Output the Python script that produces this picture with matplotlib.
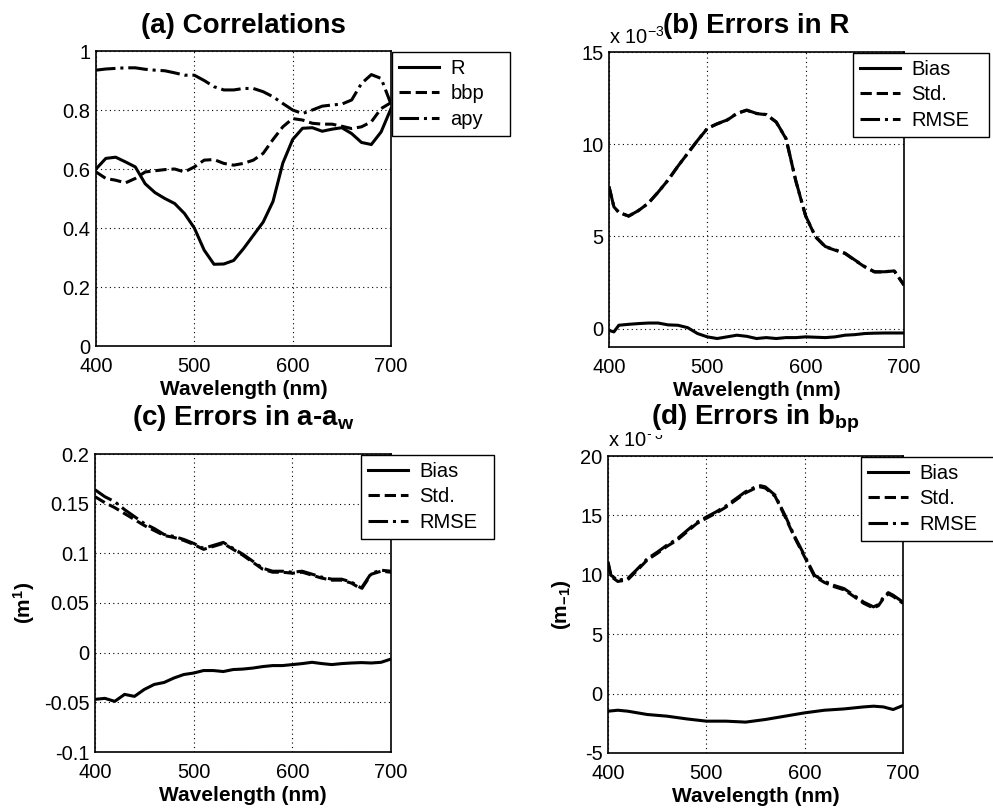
import matplotlib
matplotlib.use("Agg")
import matplotlib.pyplot as plt

plt.rcParams['font.family'] = ['Liberation Sans', 'DejaVu Sans']
plt.rcParams['mathtext.fontset'] = 'custom'
plt.rcParams['mathtext.rm'] = 'Liberation Sans'
plt.rcParams['mathtext.bf'] = 'Liberation Sans:bold'
plt.rcParams['mathtext.it'] = 'Liberation Sans:italic'

# ---------------- data ----------------
# (a) Correlations
wl_a = [400, 410, 420, 430, 440, 450, 460, 470, 480, 490, 500, 510, 520, 530, 540,
        550, 560, 570, 580, 590, 600, 610, 620, 630, 640, 650, 660, 670, 680, 690, 700]
corr_R = [0.60, 0.636, 0.64, 0.624, 0.607, 0.55, 0.52, 0.50, 0.483, 0.449, 0.40, 0.325,
          0.277, 0.278, 0.29, 0.33, 0.375, 0.42, 0.49, 0.62, 0.70, 0.738, 0.74, 0.728,
          0.735, 0.74, 0.72, 0.69, 0.683, 0.726, 0.805]
corr_bbp = [0.59, 0.568, 0.562, 0.553, 0.568, 0.59, 0.594, 0.598, 0.60, 0.59, 0.607, 0.63,
            0.632, 0.619, 0.613, 0.619, 0.63, 0.653, 0.70, 0.743, 0.771, 0.766, 0.755,
            0.752, 0.752, 0.745, 0.737, 0.743, 0.76, 0.805, 0.825]
corr_apy = [0.935, 0.939, 0.941, 0.943, 0.943, 0.938, 0.935, 0.933, 0.926, 0.918, 0.918,
            0.90, 0.879, 0.868, 0.868, 0.873, 0.873, 0.862, 0.845, 0.822, 0.80, 0.788,
            0.80, 0.813, 0.817, 0.82, 0.834, 0.89, 0.92, 0.907, 0.82]

# (b) Errors in R (x 10^-3)
wl_b = [400, 405, 410, 420, 430, 440, 450, 460, 470, 480, 490, 500, 510, 520, 530, 540,
        550, 560, 570, 580, 590, 600, 610, 620, 630, 640, 650, 660, 670, 680, 690, 700]
bias_b = [-0.1, -0.18, 0.18, 0.23, 0.27, 0.3, 0.3, 0.2, 0.18, 0.05, -0.27, -0.45, -0.54,
          -0.45, -0.36, -0.42, -0.54, -0.49, -0.54, -0.49, -0.49, -0.45, -0.47, -0.49,
          -0.45, -0.36, -0.33, -0.27, -0.25, -0.24, -0.24, -0.24]
std_b = [7.7, 6.6, 6.3, 6.1, 6.4, 6.8, 7.4, 8.05, 8.8, 9.5, 10.2, 10.85, 11.1, 11.3, 11.66,
         11.84, 11.66, 11.6, 11.2, 10.3, 8.0, 6.1, 4.97, 4.43, 4.25, 4.07, 3.7, 3.35, 3.07,
         3.07, 3.13, 2.35]
rmse_b = [7.7, 6.6, 6.3, 6.1, 6.4, 6.8, 7.4, 8.05, 8.8, 9.5, 10.2, 10.86, 11.11, 11.31, 11.67,
          11.85, 11.67, 11.61, 11.21, 10.31, 8.01, 6.11, 4.99, 4.45, 4.27, 4.09, 3.72, 3.36,
          3.08, 3.08, 3.14, 2.36]

# (c) Errors in a-a_w
wl_c = [400, 410, 420, 430, 440, 450, 460, 470, 480, 490, 500, 510, 520, 530, 540,
        550, 560, 570, 580, 590, 600, 610, 620, 630, 640, 650, 660, 670, 680, 690, 700]
bias_c = [-0.047, -0.046, -0.049, -0.042, -0.044, -0.037, -0.032, -0.030, -0.0255, -0.022,
          -0.0205, -0.018, -0.018, -0.019, -0.017, -0.0165, -0.0155, -0.014, -0.013, -0.013,
          -0.012, -0.011, -0.0097, -0.011, -0.012, -0.011, -0.0104, -0.010, -0.0104,
          -0.0097, -0.0064]
std_c = [0.157, 0.151, 0.146, 0.140, 0.134, 0.128, 0.123, 0.118, 0.116, 0.113, 0.109, 0.104,
         0.107, 0.110, 0.104, 0.098, 0.091, 0.084, 0.081, 0.081, 0.080, 0.081, 0.078, 0.075,
         0.073, 0.073, 0.070, 0.064, 0.079, 0.082, 0.081]
rmse_c = [0.164, 0.157, 0.152, 0.144, 0.137, 0.130, 0.125, 0.119, 0.117, 0.114, 0.110, 0.105,
          0.108, 0.111, 0.105, 0.099, 0.092, 0.085, 0.082, 0.082, 0.081, 0.082, 0.079, 0.076,
          0.074, 0.074, 0.071, 0.065, 0.080, 0.083, 0.082]

# (d) Errors in b_bp (x 10^-3)
wl_d = [400, 403, 410, 420, 430, 440, 450, 460, 470, 480, 490, 500, 510, 520, 530, 540, 550,
        555, 560, 570, 580, 590, 600, 610, 620, 630, 640, 650, 660, 670, 675, 680, 685, 690, 700]
std_d = [11.0, 9.86, 9.44, 9.58, 10.4, 11.26, 11.8, 12.4, 12.9, 13.6, 14.3, 14.76, 15.2, 15.7,
         16.3, 16.9, 17.3, 17.4, 17.3, 16.6, 14.9, 13.1, 11.5, 9.86, 9.36, 9.0, 8.74, 8.18,
         7.6, 7.2, 7.4, 8.0, 8.4, 8.18, 7.6]
rmse_d = [11.1, 9.96, 9.54, 9.68, 10.5, 11.36, 11.9, 12.5, 13.0, 13.7, 14.4, 14.86, 15.3, 15.8,
          16.4, 17.0, 17.4, 17.5, 17.4, 16.7, 15.0, 13.2, 11.6, 9.96, 9.46, 9.1, 8.84, 8.28,
          7.7, 7.3, 7.5, 8.1, 8.5, 8.28, 7.7]
wl_db = [400, 410, 420, 440, 460, 480, 500, 520, 540, 560, 580, 600, 620, 640, 660, 670, 680,
         690, 700]
bias_d = [-1.48, -1.4, -1.48, -1.76, -1.9, -2.13, -2.32, -2.32, -2.4, -2.18, -1.9, -1.62,
          -1.4, -1.29, -1.12, -1.06, -1.12, -1.34, -1.0]

xticks = [400, 500, 600, 700]
yticks_a = [0, 0.2, 0.4, 0.6, 0.8, 1]
ylabels_a = ['0', '0.2', '0.4', '0.6', '0.8', '1']
yticks_b = [0, 5, 10, 15]
yticks_c = [-0.1, -0.05, 0, 0.05, 0.1, 0.15, 0.2]
ylabels_c = ['-0.1', '-0.05', '0', '0.05', '0.1', '0.15', '0.2']
yticks_d = [-5, 0, 5, 10, 15, 20]

# ---------------- figure ----------------
W, H = 993, 811
fig = plt.figure(figsize=(W / 100, H / 100), dpi=100)


def axrect(l, t, r, b):
    return [l / W, 1 - b / H, (r - l) / W, (b - t) / H]


ax_a = fig.add_axes(axrect(96, 51, 391, 346))
ax_b = fig.add_axes(axrect(609, 52, 904, 347))
ax_c = fig.add_axes(axrect(95, 454, 391, 752))
ax_d = fig.add_axes(axrect(608, 456, 903, 753))

LW = 2.2
TICK_FS = 14.5


def style(ax, ylim, yticks, ylabels=None):
    ax.set_xlim(400, 700)
    ax.set_xticks(xticks)
    ax.set_xticklabels([str(v) for v in xticks])
    ax.set_ylim(*ylim)
    ax.set_yticks(yticks)
    if ylabels is None:
        ylabels = [str(v) for v in yticks]
    ax.set_yticklabels(ylabels)
    ax.grid(True, linestyle=(0, (1, 3)), color='black', linewidth=0.8)
    ax.tick_params(axis='both', direction='in', length=0, labelsize=TICK_FS)
    ax.tick_params(axis='x', pad=8)
    ax.tick_params(axis='y', pad=4)
    for s in ax.spines.values():
        s.set_linewidth(1.2)
        s.set_color('black')
    ax.set_xlabel('Wavelength (nm)', fontsize=15, fontweight='bold')
    ax.xaxis.set_label_coords(0.5, -0.114)


def legend(ax, lines, labels, x0, y0, w):
    lg = ax.legend(lines, labels, loc='upper left', bbox_to_anchor=(x0, y0 - 0.3, w, 0.3),
                   mode='expand', borderaxespad=0, fontsize=TICK_FS, frameon=True,
                   fancybox=False, edgecolor='black', framealpha=1, handlelength=2.0,
                   handletextpad=0.55, labelspacing=0.32, borderpad=0.35)
    lg.get_frame().set_linewidth(1.0)
    return lg


# (a)
la1, = ax_a.plot(wl_a, corr_R, color='black', lw=LW, ls='-')
la2, = ax_a.plot(wl_a, corr_bbp, color='black', lw=LW, ls='--')
la3, = ax_a.plot(wl_a, corr_apy, color='black', lw=LW, ls='-.')
style(ax_a, (0, 1), yticks_a, ylabels_a)
legend(ax_a, [la1, la2, la3], ['R', 'bbp', 'apy'], 1.003, 0.997, 0.40)

# (b)
lb1, = ax_b.plot(wl_b, bias_b, color='black', lw=LW, ls='-')
lb2, = ax_b.plot(wl_b, std_b, color='black', lw=LW, ls='--')
lb3, = ax_b.plot(wl_b, rmse_b, color='black', lw=LW, ls='-.')
style(ax_b, (-1, 15), yticks_b)
legend(ax_b, [lb1, lb2, lb3], ['Bias', 'Std.', 'RMSE'], 0.827, 0.997, 0.461)

# (c)
lc1, = ax_c.plot(wl_c, bias_c, color='black', lw=LW, ls='-')
lc2, = ax_c.plot(wl_c, std_c, color='black', lw=LW, ls='--')
lc3, = ax_c.plot(wl_c, rmse_c, color='black', lw=LW, ls='-.')
style(ax_c, (-0.1, 0.2), yticks_c, ylabels_c)
legend(ax_c, [lc1, lc2, lc3], ['Bias', 'Std.', 'RMSE'], 0.899, 0.997, 0.449)
ax_c.set_ylabel(r'(m$^{\mathbf{1}}$)', fontsize=15, fontweight='bold')
ax_c.yaxis.set_label_coords(-0.196, 0.5)

# (d)
ld1, = ax_d.plot(wl_db, bias_d, color='black', lw=LW, ls='-')
ld2, = ax_d.plot(wl_d, std_d, color='black', lw=LW, ls='--')
ld3, = ax_d.plot(wl_d, rmse_d, color='black', lw=LW, ls='-.')
style(ax_d, (-5, 20), yticks_d)
legend(ax_d, [ld1, ld2, ld3], ['Bias', 'Std.', 'RMSE'], 0.858, 0.997, 0.461)
ax_d.set_ylabel(r'(m$_{\mathbf{-1}}$)', fontsize=15, fontweight='bold')
ax_d.yaxis.set_label_coords(-0.119, 0.5)

# offset texts
fig.text(609 / W, 1 - 44 / H, r'x 10$^{-3}$', fontsize=TICK_FS, ha='left', va='baseline', zorder=3)
fig.text(608 / W, 1 - 447 / H, r'x 10$^{-3}$', fontsize=TICK_FS, ha='left', va='baseline', zorder=3)

# titles
TFS = 20
fig.text(243 / W, 1 - 33 / H, '(a) Correlations', fontsize=TFS, fontweight='bold',
         ha='center', va='baseline', zorder=4)
fig.text(756 / W, 1 - 33 / H, '(b) Errors in R', fontsize=TFS, fontweight='bold',
         ha='center', va='baseline', zorder=4,
         bbox=dict(facecolor='white', edgecolor='none', pad=0))
fig.text(243 / W, 1 - 425 / H, r'(c) Errors in a-a$_{\mathbf{w}}$', fontsize=TFS,
         fontweight='bold', ha='center', va='baseline', zorder=4)
fig.text(755 / W, 1 - 425 / H, r'(d) Errors in b$_{\mathbf{bp}}$', fontsize=TFS,
         fontweight='bold', ha='center', va='baseline', zorder=4,
         bbox=dict(facecolor='white', edgecolor='none', pad=0))

fig.savefig('out.png', dpi=100, facecolor='white')
